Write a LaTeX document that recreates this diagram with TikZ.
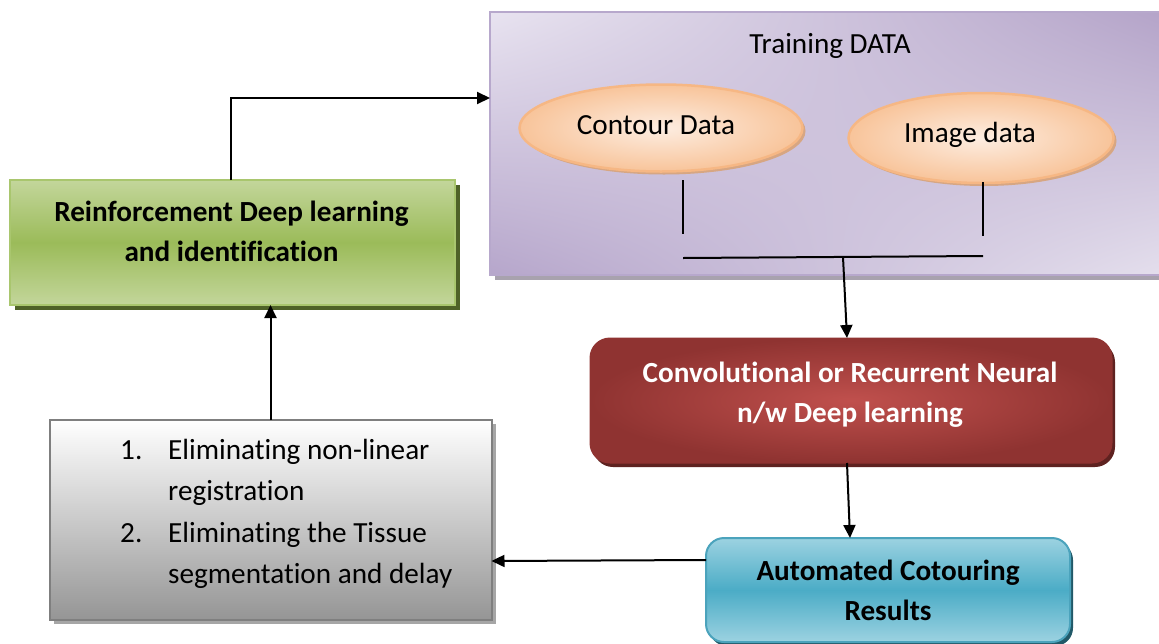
\documentclass[tikz,border=0pt]{standalone}
\usepackage{fontspec}
\setmainfont{Carlito}[Ligatures={NoCommon}]
\usetikzlibrary{shapes.geometric,shadows,shadings,arrows.meta}
\definecolor{trUL}{HTML}{E8E3F0}
\definecolor{trUR}{HTML}{B2A1C7}
\definecolor{trLL}{HTML}{B6A6CB}
\definecolor{trLR}{HTML}{E6E1EE}
\definecolor{trBorder}{HTML}{B7A8CC}
\definecolor{trShadow}{HTML}{A8A2AE}
\definecolor{elIn}{HTML}{FDEDE1}
\definecolor{elOut}{HTML}{F8C49A}
\definecolor{elBorder}{HTML}{F6B784}
\definecolor{elShadow}{HTML}{D7A682}
\definecolor{grLight}{HTML}{C3D69B}
\definecolor{grMid}{HTML}{9BBB59}
\definecolor{grBorder}{HTML}{A9C66E}
\definecolor{grShadow}{HTML}{4F6228}
\definecolor{rdIn}{HTML}{C0504D}
\definecolor{rdOut}{HTML}{8F3331}
\definecolor{rdShadow}{HTML}{5E2220}
\definecolor{blLight}{HTML}{9CD2E1}
\definecolor{blMid}{HTML}{4BACC6}
\definecolor{blBorder}{HTML}{4BA3BC}
\definecolor{blShadow}{HTML}{215968}
\definecolor{gyBottom}{HTML}{959595}
\definecolor{gyBorder}{HTML}{7F7F7F}
\definecolor{gyShadow}{HTML}{A6A6A6}
\begin{document}
\begin{tikzpicture}[x=1pt,y=-1pt,
  font=\fontsize{29.2}{40}\selectfont,
  conn/.style={line width=2pt,-{Triangle[length=13pt,width=12pt]}},
  plainline/.style={line width=2pt},
  box/.style={rectangle,inner sep=0pt,outer sep=0pt},
  trainbox/.style={box,draw=trBorder,line width=2pt,
    upper left=trUL,upper right=trUR,lower left=trLL,lower right=trLR,
    drop shadow={shadow xshift=5pt,shadow yshift=-5pt,fill=trShadow,opacity=1}},
  ell/.style={ellipse,inner sep=0pt,outer sep=0pt,draw=elBorder,line width=2.5pt,
    inner color=elIn,outer color=elOut,
    drop shadow={shadow xshift=3pt,shadow yshift=-3pt,fill=elShadow,opacity=1}},
  greenbox/.style={box,draw=grBorder,line width=2pt,
    top color=grLight,bottom color=grLight,middle color=grMid,
    drop shadow={shadow xshift=5pt,shadow yshift=-5pt,fill=grShadow,opacity=1}},
  redbox/.style={box,rounded corners=20pt,inner color=rdIn,outer color=rdOut,
    draw=rdOut,line width=1pt,
    drop shadow={shadow xshift=3pt,shadow yshift=-4pt,fill=rdShadow,opacity=1}},
  bluebox/.style={box,rounded corners=18pt,draw=blBorder,line width=2pt,
    top color=blLight,bottom color=blLight,middle color=blMid,
    font=\fontsize{29.2}{40}\selectfont\bfseries,align=center,
    drop shadow={shadow xshift=3pt,shadow yshift=-4pt,fill=blShadow,opacity=1}},
  graybox/.style={box,draw=gyBorder,line width=2pt,top color=white,bottom color=gyBottom,
    drop shadow={shadow xshift=4pt,shadow yshift=-4pt,fill=gyShadow,opacity=1}},
  boldlabel/.style={align=center,font=\fontsize{29.2}{40}\selectfont\bfseries}
]
\useasboundingbox (0,0) rectangle (1159,643);
\clip (0,0) rectangle (1159,643);

% Training data panel
\node[trainbox,minimum width=700pt,minimum height=263pt,anchor=north west] (train) at (490,12) {};
\node[inner sep=0pt] (traintitle) at (830,46) {Training DATA};
\node[ell,minimum width=283pt,minimum height=87pt,
  label={[yshift=3pt,xshift=-5pt]center:Contour Data}] (contour) at (661,128) {};
\node[ell,minimum width=265pt,minimum height=90pt,
  label={[yshift=3pt,xshift=-11pt]center:Image data}] (image) at (981,138) {};

\coordinate (c1) at (683,180);
\coordinate (c2) at (683,234);
\coordinate (i1) at (983,182);
\coordinate (i2) at (983,236);
\coordinate (hl) at (683,258);
\coordinate (hr) at (983,256);
\coordinate (j) at (843,257);
\draw[plainline] (c1) -- (c2);
\draw[plainline] (i1) -- (i2);
\draw[plainline] (hl) -- (hr);

% Green box
\node[greenbox,minimum width=445pt,minimum height=125pt,
  label={[yshift=11pt,xshift=-1pt,boldlabel]center:Reinforcement Deep learning\\and identification}]
  (green) at (232.5,242.5) {};

% Red box
\node[redbox,minimum width=522pt,minimum height=125pt,
  label={[yshift=6pt,xshift=-1pt,boldlabel,text=white]center:Convolutional or Recurrent Neural\\n/w Deep learning}]
  (conv) at (851,400.5) {};

% Blue box
\node[bluebox,minimum width=364pt,minimum height=104pt] (auto) at (888,590)
  {Automated Cotouring\\Results};

% Gray box
\node[graybox,minimum width=442pt,minimum height=200pt] (gbox) at (270.5,520) {};
\node[anchor=north west,inner sep=0pt] (list) at (120,430)
  {\fontsize{29.2}{41.5}\selectfont
   \begin{tabular}{@{}p{48pt}@{}l@{}}
   1. & Eliminating non-linear\\
      & registration\\
   2. & Eliminating the Tissue\\
      & segmentation and delay
   \end{tabular}};

% Connectors
\draw[conn] (j) -- ([xshift=-4pt]conv.north);
\draw[conn] ([xshift=-4pt]conv.south) -- ([xshift=-38pt]auto.north);
\draw[conn] (auto.west |- 0,560) -- (gbox.east |- 0,561);
\draw[conn] (gbox.north) -- (gbox.north |- green.south);
\draw[conn] ([xshift=-1.5pt]green.north) |- (train.west |- 0,98);
\end{tikzpicture}
\end{document}
